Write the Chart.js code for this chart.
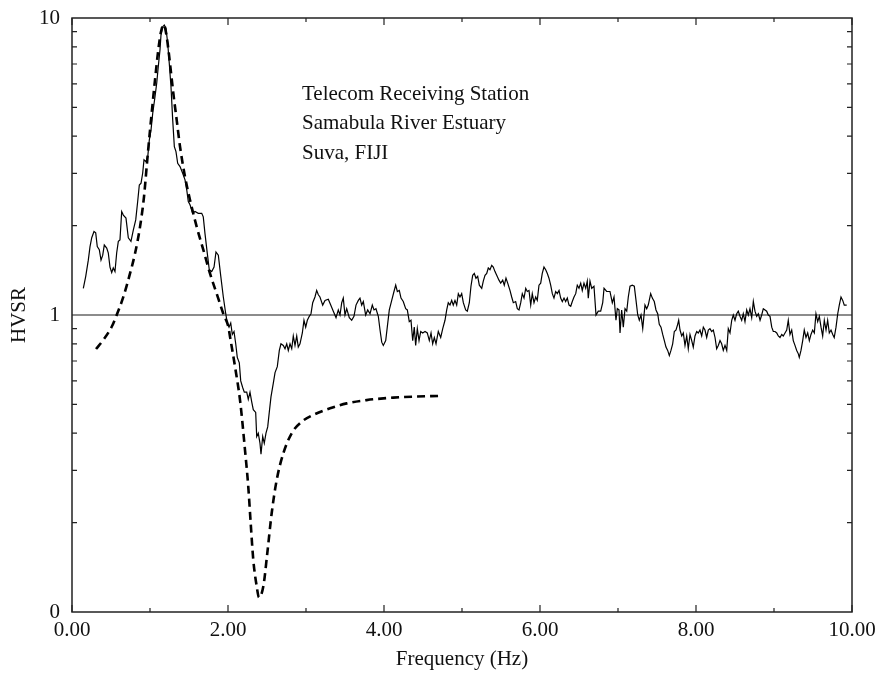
<!DOCTYPE html>
<html>
<head>
<meta charset="utf-8">
<title>HVSR - Telecom Receiving Station</title>
<script src="https://cdn.jsdelivr.net/npm/chart.js@4.4.1/dist/chart.umd.min.js"></script>
<style>
  html, body { margin: 0; padding: 0; background: #fff; }
  #wrap { width: 881px; height: 675px; }
</style>
</head>
<body>
<div id="wrap"><canvas id="hvsrChart" width="881" height="675"></canvas></div>
<script>
// Measured HVSR (solid line)
const freq = [
  0.145,0.176,0.209,0.231,0.253,0.282,0.304,0.324,0.350,0.372,
  0.394,0.414,0.445,0.465,0.487,0.509,0.529,0.551,0.573,0.594,
  0.615,0.637,0.658,0.692,0.722,0.756,0.786,0.817,0.842,0.863,
  0.885,0.906,0.923,0.949,0.971,0.991,1.013,1.035,1.064,1.086,
  1.106,1.128,1.141,1.163,1.183,1.205,1.227,1.247,1.269,1.291,
  1.312,1.333,1.355,1.385,1.419,1.449,1.471,1.491,1.513,1.547,
  1.577,1.619,1.663,1.683,1.705,1.735,1.760,1.791,1.821,1.846,
  1.876,1.906,1.940,1.971,1.991,2.013,2.035,2.055,2.077,2.099,
  2.119,2.145,2.163,2.188,2.209,2.240,2.260,2.282,2.304,2.324,
  2.355,2.368,2.388,2.410,2.423,2.445,2.465,2.487,2.509,2.529,
  2.551,2.581,2.603,2.632,2.658,2.679,2.709,2.731,2.753,2.773,
  2.795,2.817,2.837,2.859,2.881,2.901,2.923,2.953,2.974,2.996,
  3.017,3.042,3.064,3.086,3.115,3.137,3.158,3.179,3.214,3.244,
  3.286,3.317,3.350,3.385,3.414,3.436,3.458,3.478,3.500,3.522,
  3.555,3.586,3.615,3.641,3.671,3.692,3.714,3.735,3.765,3.791,
  3.821,3.850,3.872,3.897,3.927,3.949,3.971,3.991,4.022,4.042,
  4.068,4.099,4.128,4.150,4.171,4.196,4.218,4.247,4.278,4.299,
  4.324,4.346,4.368,4.388,4.406,4.427,4.449,4.471,4.496,4.526,
  4.555,4.581,4.603,4.624,4.645,4.667,4.696,4.727,4.753,4.782,
  4.804,4.824,4.846,4.868,4.888,4.910,4.932,4.953,4.974,4.996,
  5.017,5.047,5.068,5.094,5.115,5.137,5.158,5.179,5.201,5.222,
  5.253,5.273,5.295,5.317,5.337,5.359,5.381,5.401,5.423,5.445,
  5.474,5.496,5.522,5.542,5.564,5.586,5.615,5.637,5.658,5.688,
  5.709,5.731,5.753,5.773,5.795,5.817,5.837,5.859,5.881,5.901,
  5.923,5.945,5.965,5.987,6.009,6.029,6.051,6.073,6.094,6.115,
  6.137,6.158,6.179,6.201,6.222,6.244,6.265,6.286,6.308,6.329,
  6.350,6.372,6.394,6.414,6.436,6.458,6.478,6.500,6.522,6.542,
  6.564,6.586,6.606,6.619,6.641,6.663,6.692,6.718,6.747,6.778,
  6.804,6.821,6.855,6.897,6.927,6.949,6.974,6.991,7.013,7.026,
  7.047,7.068,7.090,7.112,7.132,7.154,7.183,7.209,7.231,7.253,
  7.273,7.295,7.317,7.346,7.368,7.388,7.419,7.440,7.465,7.487,
  7.509,7.529,7.551,7.573,7.594,7.615,7.637,7.658,7.679,7.701,
  7.722,7.744,7.765,7.778,7.795,7.817,7.837,7.859,7.881,7.901,
  7.923,7.945,7.965,7.987,8.009,8.029,8.051,8.073,8.094,8.115,
  8.137,8.158,8.179,8.201,8.222,8.244,8.265,8.286,8.308,8.329,
  8.350,8.372,8.394,8.414,8.436,8.458,8.478,8.500,8.522,8.542,
  8.564,8.586,8.606,8.628,8.650,8.671,8.692,8.714,8.735,8.756,
  8.778,8.799,8.821,8.842,8.863,8.885,8.906,8.927,8.949,8.971,
  8.991,9.013,9.035,9.055,9.077,9.099,9.119,9.141,9.163,9.183,
  9.205,9.227,9.247,9.269,9.291,9.312,9.324,9.346,9.368,9.388,
  9.410,9.432,9.453,9.474,9.496,9.517,9.538,9.560,9.581,9.603,
  9.624,9.645,9.667,9.688,9.709,9.731,9.753,9.772,9.795,9.817,
  9.837,9.859,9.881,9.901,9.932
];
const hvsr = [
  1.23,1.35,1.53,1.70,1.82,1.91,1.89,1.70,1.66,1.53,
  1.59,1.72,1.68,1.62,1.45,1.39,1.44,1.40,1.62,1.77,
  1.79,2.23,2.17,2.12,1.82,1.77,1.93,2.09,2.41,2.74,
  2.78,3.00,3.33,3.28,3.41,3.88,4.20,4.78,5.43,6.03,
  6.86,7.80,8.77,9.35,9.47,9.23,8.22,7.04,5.87,4.54,
  3.69,3.55,3.24,3.16,3.00,2.85,2.64,2.41,2.35,2.20,
  2.23,2.20,2.20,2.14,1.88,1.61,1.42,1.40,1.45,1.63,
  1.59,1.36,1.15,1.01,0.94,0.91,0.94,0.86,0.88,0.80,
  0.72,0.69,0.60,0.57,0.55,0.55,0.52,0.55,0.51,0.48,
  0.47,0.39,0.40,0.37,0.34,0.39,0.37,0.40,0.42,0.47,
  0.53,0.59,0.64,0.67,0.76,0.80,0.79,0.77,0.80,0.76,
  0.80,0.77,0.85,0.79,0.85,0.78,0.80,0.87,0.96,0.91,
  0.96,0.99,1.01,1.10,1.15,1.21,1.17,1.15,1.08,1.12,
  1.13,1.08,1.03,0.98,1.04,1.00,1.10,1.14,1.00,1.05,
  0.98,0.96,0.99,1.08,1.12,1.14,1.08,1.11,1.00,1.04,
  1.01,1.08,1.04,1.05,0.99,0.89,0.81,0.79,0.82,0.91,
  1.04,1.12,1.20,1.26,1.20,1.21,1.14,1.11,1.05,1.04,
  0.95,0.96,0.82,0.91,0.79,0.90,0.82,0.88,0.87,0.88,
  0.87,0.82,0.87,0.80,0.84,0.80,0.88,0.84,0.90,0.96,
  1.04,1.10,1.08,1.12,1.08,1.12,1.08,1.18,1.15,1.18,
  1.10,1.04,1.03,1.10,1.25,1.36,1.38,1.33,1.35,1.26,
  1.23,1.30,1.36,1.38,1.44,1.42,1.47,1.45,1.40,1.36,
  1.31,1.28,1.31,1.26,1.33,1.28,1.21,1.15,1.10,1.11,
  1.05,1.04,1.10,1.18,1.14,1.23,1.20,1.21,1.08,1.18,
  1.10,1.15,1.12,1.26,1.28,1.38,1.45,1.42,1.38,1.33,
  1.26,1.18,1.14,1.20,1.18,1.21,1.14,1.11,1.14,1.11,
  1.14,1.08,1.07,1.11,1.15,1.18,1.26,1.23,1.28,1.21,
  1.28,1.23,1.30,1.14,1.30,1.23,1.25,1.00,1.03,1.03,
  1.10,1.23,1.20,1.20,1.10,1.15,0.96,1.05,1.04,0.87,
  1.04,0.91,1.05,1.03,1.15,1.25,1.26,1.25,1.12,1.00,
  0.96,1.00,0.90,1.08,1.05,1.08,1.18,1.14,1.11,1.04,
  1.01,0.93,0.91,0.86,0.82,0.78,0.76,0.73,0.76,0.80,
  0.88,0.89,0.93,0.96,0.89,0.85,0.87,0.79,0.85,0.77,
  0.86,0.82,0.78,0.85,0.88,0.87,0.89,0.85,0.91,0.89,
  0.84,0.89,0.90,0.88,0.89,0.84,0.77,0.79,0.82,0.80,
  0.76,0.79,0.76,0.90,0.87,0.96,1.00,0.96,1.01,1.03,
  0.99,0.96,1.01,0.95,1.04,1.00,1.05,0.98,1.11,1.03,
  0.99,1.01,0.96,1.00,1.05,1.04,1.03,1.00,0.99,0.91,
  0.88,0.88,0.87,0.85,0.84,0.86,0.85,0.87,0.89,0.96,
  0.86,0.89,0.82,0.79,0.76,0.74,0.72,0.76,0.82,0.89,
  0.84,0.87,0.82,0.86,0.89,0.87,1.01,0.95,0.99,0.91,
  0.85,0.96,0.89,0.96,0.87,0.89,0.86,0.84,0.91,1.01,
  1.08,1.15,1.12,1.08,1.08
];

// Theoretical transfer function (dashed line)
const modelFreq = [
  0.308,0.401,0.509,0.573,0.658,0.744,0.808,0.872,0.923,0.965,
  1.013,1.064,1.106,1.141,1.176,1.214,1.256,1.299,1.342,1.385,
  1.449,1.513,1.599,1.683,1.769,1.855,1.940,2.004,2.026,2.090,
  2.154,2.218,2.260,2.291,2.324,2.368,2.397,2.453,2.504,2.560,
  2.624,2.709,2.817,2.945,3.094,3.308,3.522,3.778,4.119,4.376,
  4.718
];
const modelHvsr = [
  0.768,0.824,0.913,1.00,1.15,1.38,1.61,1.98,2.50,3.33,
  4.54,6.18,7.80,8.99,9.50,8.65,7.04,5.58,4.54,3.69,
  2.92,2.44,1.98,1.66,1.38,1.18,1.01,0.913,0.845,0.670,
  0.517,0.351,0.264,0.199,0.150,0.122,0.112,0.122,0.158,0.215,
  0.278,0.342,0.400,0.437,0.461,0.485,0.504,0.517,0.527,0.531,
  0.534
];

// Axis ticks
const xTicks = [0, 2, 4, 6, 8, 10];
const xMinorTicks = [1, 3, 5, 7, 9];
const yTicks = [0.1, 1, 10];
const yTickLabels = ["0", "1", "10"];
const yMinorTicks = [0.2, 0.3, 0.4, 0.5, 0.6, 0.7, 0.8, 0.9, 2, 3, 4, 5, 6, 7, 8, 9];

const stationLines = ["Telecom Receiving Station", "Samabula River Estuary", "Suva, FIJI"];

const SERIF = "'Liberation Serif', 'DejaVu Serif', serif";

// Box, inward ticks and the site label
const framePlugin = {
  id: "frame",
  afterDatasetsDraw(chart) {
    const { ctx, chartArea: a, scales: { x, y } } = chart;
    ctx.save();
    ctx.strokeStyle = "#222";
    ctx.lineWidth = 1.5;
    ctx.strokeRect(a.left, a.top, a.right - a.left, a.bottom - a.top);

    ctx.lineWidth = 1.2;
    ctx.beginPath();
    const xTick = (v, len) => {
      const px = x.getPixelForValue(v);
      ctx.moveTo(px, a.bottom); ctx.lineTo(px, a.bottom - len);
      ctx.moveTo(px, a.top); ctx.lineTo(px, a.top + len);
    };
    xTicks.forEach(v => xTick(v, 7));
    xMinorTicks.forEach(v => xTick(v, 4));
    yMinorTicks.forEach(v => {
      const py = y.getPixelForValue(v);
      ctx.moveTo(a.left, py); ctx.lineTo(a.left + 5, py);
      ctx.moveTo(a.right, py); ctx.lineTo(a.right - 5, py);
    });
    ctx.stroke();

    ctx.fillStyle = "#111";
    ctx.font = "21px " + SERIF;
    ctx.textAlign = "left";
    ctx.textBaseline = "alphabetic";
    stationLines.forEach((line, i) => {
      ctx.fillText(line, 302, 100 + i * 29.3);
    });
    ctx.restore();
  }
};

const toPoints = (xs, ys) => xs.map((f, i) => ({ x: f, y: ys[i] }));

new Chart(document.getElementById("hvsrChart"), {
  type: "scatter",
  data: {
    datasets: [
      {
        label: "HVSR",
        data: toPoints(freq, hvsr),
        showLine: true,
        borderColor: "#000",
        borderWidth: 1.2,
        pointRadius: 0,
        tension: 0
      },
      {
        label: "Model",
        data: toPoints(modelFreq, modelHvsr),
        showLine: true,
        borderColor: "#000",
        borderWidth: 2.6,
        borderDash: [8, 5],
        pointRadius: 0,
        cubicInterpolationMode: "monotone"
      },
      {
        label: "Unity",
        data: toPoints([0, 10], [1, 1]),
        showLine: true,
        borderColor: "#666",
        borderWidth: 1.6,
        pointRadius: 0
      }
    ]
  },
  options: {
    responsive: false,
    animation: false,
    events: [],
    layout: { padding: { left: 0, right: 29, top: 18, bottom: 0 } },
    plugins: {
      legend: { display: false },
      tooltip: { enabled: false }
    },
    scales: {
      x: {
        type: "linear",
        min: 0,
        max: 10,
        afterBuildTicks: scale => { scale.ticks = xTicks.map(v => ({ value: v })); },
        afterFit: scale => {
          scale.height = 63;
          scale.paddingLeft = 0;
          scale.paddingRight = 0;
        },
        grid: { display: false, drawTicks: false },
        border: { display: false },
        ticks: {
          color: "#111",
          padding: 6,
          maxRotation: 0,
          font: { family: SERIF, size: 21 },
          callback: v => Number(v).toFixed(2)
        },
        title: {
          display: true,
          text: "Frequency (Hz)",
          color: "#111",
          padding: { top: 0, bottom: 3 },
          font: { family: SERIF, size: 21 }
        }
      },
      y: {
        type: "logarithmic",
        min: 0.1,
        max: 10,
        afterBuildTicks: scale => { scale.ticks = yTicks.map(v => ({ value: v })); },
        afterFit: scale => {
          scale.width = 72;
          scale.paddingTop = 0;
          scale.paddingBottom = 0;
        },
        grid: { display: false, drawTicks: false },
        border: { display: false },
        ticks: {
          color: "#111",
          padding: 12,
          font: { family: SERIF, size: 21 },
          callback: (v, i) => yTickLabels[i]
        },
        title: {
          display: true,
          text: "HVSR",
          color: "#111",
          padding: { top: 7, bottom: 0 },
          font: { family: SERIF, size: 21 }
        }
      }
    }
  },
  plugins: [framePlugin]
});
</script>
</body>
</html>
